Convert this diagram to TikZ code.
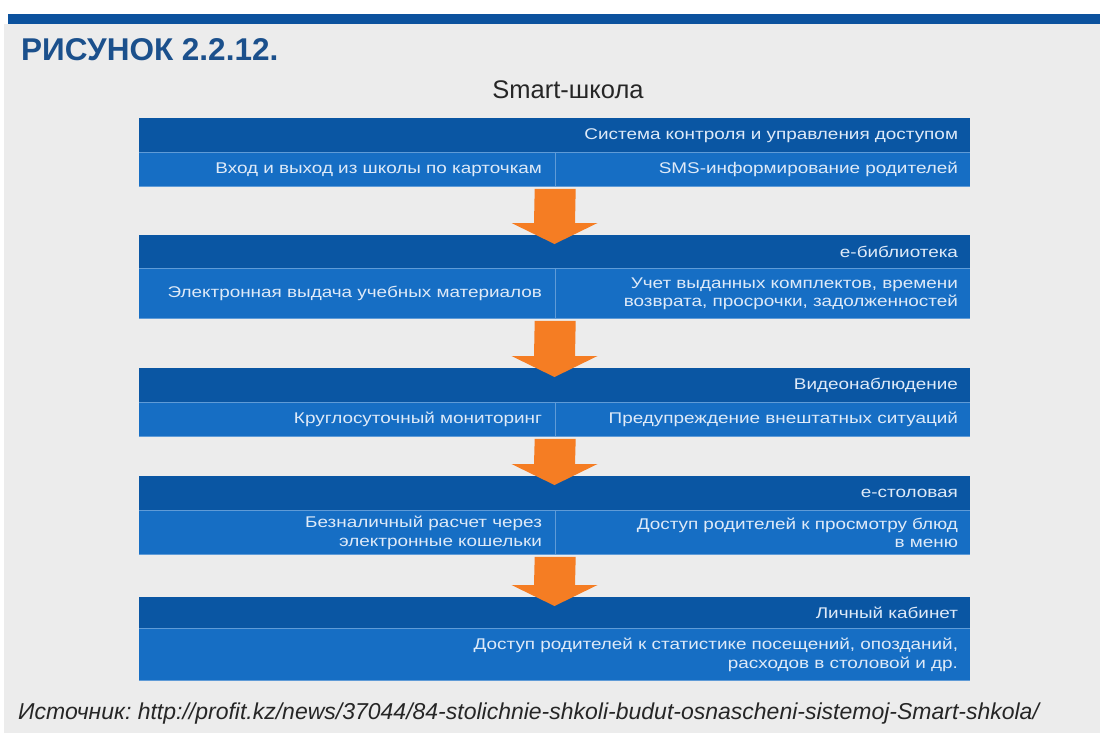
\documentclass[tikz,border=0pt]{standalone}
\usepackage{fontspec}
\setmainfont{Liberation Sans}
\newfontfamily\boxfont[FakeStretch=1.22]{Liberation Sans}
\usetikzlibrary{positioning, calc}
\definecolor{fonGray}{RGB}{236,236,236}
\definecolor{barBlue}{RGB}{12,82,158}
\definecolor{titleBlue}{RGB}{27,80,140}
\definecolor{hdrBlue}{RGB}{10,86,163}
\definecolor{subBlue}{RGB}{22,110,196}
\definecolor{sepBlue}{RGB}{95,155,215}
\definecolor{txtLight}{RGB}{222,234,248}
\definecolor{arrOrange}{RGB}{245,125,35}

% оранжевая стрелка между блоками
\newcommand{\blockarrow}[2]{%
  \fill[arrOrange] ($(#1)+(-20.5,2)$) -- ($(#2)+(-20.5,-12)$) -- ($(#2)+(-43,-12)$)
    -- ($(#2)+(0,9)$) -- ($(#2)+(43,-12)$) -- ($(#2)+(20.5,-12)$) -- ($(#1)+(20.5,2)$) -- cycle;}

\tikzset{
  boxtext/.style={text=txtLight, font=\boxfont\fontsize{15.5}{18.5}\selectfont, inner ysep=0pt, align=right},
  hdr/.style={boxtext, fill=hdrBlue, minimum width=831pt, text width=807pt, inner xsep=12pt, anchor=north},
  cellL/.style={boxtext, fill=subBlue, minimum width=416pt, text width=390pt, inner xsep=13pt, anchor=north west},
  cellR/.style={boxtext, fill=subBlue, minimum width=415pt, text width=391pt, inner xsep=12pt, anchor=north east},
  cellW/.style={boxtext, fill=subBlue, minimum width=831pt, text width=807pt, inner xsep=12pt, anchor=north west},
  sep/.style={sepBlue, line width=0.8pt}
}

\begin{document}
\begin{tikzpicture}[x=1pt, y=-1pt]
    \useasboundingbox (0,0) rectangle (1100,740);
    % фон и верхняя полоса
    \fill[fonGray] (4,24) rectangle (1100,733);
    \fill[barBlue] (8,14) rectangle (1100,24);

    \node[anchor=base west, text=titleBlue, font=\bfseries\fontsize{31.5}{36}\selectfont, inner sep=0pt] (title) at (21,60) {РИСУНОК 2.2.12.};
    \node[anchor=base, text=black!85, font=\fontsize{25.5}{30}\selectfont, inner sep=0pt] (head) at (568,98) {Smart-школа};

    % Система контроля
    \node[hdr, minimum height=34pt] (h1) at (554.5,118) {Система контроля и управления доступом};
    \node[cellL, minimum height=34pt] (l1) at (h1.south west) {Вход и выход из школы по карточкам};
    \node[cellR, minimum height=34pt] (r1) at (h1.south east) {SMS-информирование родителей};
    \draw[sep] (h1.south west) -- (h1.south east);
    \draw[sep] (l1.north east) -- (l1.south east);
    \draw[sep] (l1.south west) -- (r1.south east);

    % е-библиотека
    \node[hdr, minimum height=33pt] (h2) at (554.5,235) {е-библиотека};
    \node[cellL, minimum height=50pt] (l2) at (h2.south west) {Электронная выдача учебных материалов};
    \node[cellR, minimum height=50pt] (r2) at (h2.south east) {Учет выданных комплектов, времени\\возврата, просрочки, задолженностей};
    \draw[sep] (h2.south west) -- (h2.south east);
    \draw[sep] (l2.north east) -- (l2.south east);
    \draw[sep] (l2.south west) -- (r2.south east);

    % Видеонаблюдение
    \node[hdr, minimum height=34pt] (h3) at (554.5,368) {Видеонаблюдение};
    \node[cellL, minimum height=34pt] (l3) at (h3.south west) {Круглосуточный мониторинг};
    \node[cellR, minimum height=34pt] (r3) at (h3.south east) {Предупреждение внештатных ситуаций};
    \draw[sep] (h3.south west) -- (h3.south east);
    \draw[sep] (l3.north east) -- (l3.south east);
    \draw[sep] (l3.south west) -- (r3.south east);

    % е-столовая
    \node[hdr, minimum height=34pt] (h4) at (554.5,476) {е-столовая};
    \node[cellL, minimum height=44pt] (l4) at (h4.south west) {Безналичный расчет через\\электронные кошельки};
    \node[cellR, minimum height=44pt] (r4) at (h4.south east) {Доступ родителей к просмотру блюд\\в меню};
    \draw[sep] (h4.south west) -- (h4.south east);
    \draw[sep] (l4.north east) -- (l4.south east);
    \draw[sep] (l4.south west) -- (r4.south east);

    % Личный кабинет
    \node[hdr, minimum height=31pt] (h5) at (554.5,597) {Личный кабинет};
    \node[cellW, minimum height=52pt] (w5) at (h5.south west) {Доступ родителей к статистике посещений, опозданий,\\расходов в столовой и др.};
    \draw[sep] (h5.south west) -- (h5.south east);
    \draw[sep] (w5.south west) -- (w5.south east);

    % стрелки
    \blockarrow{l1.south east}{h2.north}
    \blockarrow{l2.south east}{h3.north}
    \blockarrow{l3.south east}{h4.north}
    \blockarrow{l4.south east}{h5.north}

    \node[anchor=base west, text=black!85, font=\itshape\fontsize{23}{27}\selectfont, inner sep=0pt] (src) at (18,719) {\frenchspacing Источник: http://profit.kz/news/37044/84-stolichnie-shkoli-budut-osnascheni-sistemoj-Smart-shkola/};
\end{tikzpicture}
\end{document}
